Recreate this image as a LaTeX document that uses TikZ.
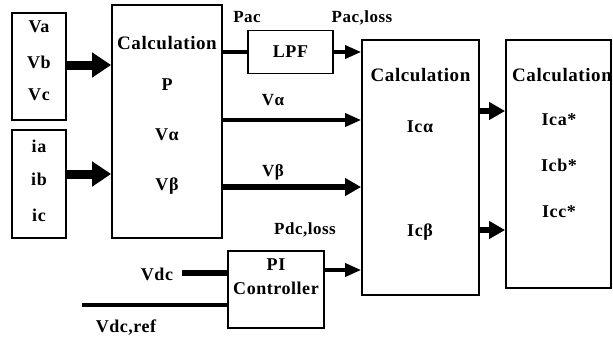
\documentclass[tikz,border=0pt]{standalone}
\usepackage{fontspec}
\setmainfont{Liberation Serif}[LetterSpace=3]
\usetikzlibrary{arrows.meta}
\begin{document}
\begin{tikzpicture}[x=1pt,y=-1pt,
  box/.style={draw,line width=1.8pt,inner sep=0pt},
  txt/.style={inner sep=0pt,font=\bfseries\fontsize{18}{20}\selectfont},
  calc/.style={inner sep=0pt,font=\bfseries\fontsize{19}{21}\selectfont},
  lbl/.style={inner sep=0pt,font=\bfseries\fontsize{17}{19}\selectfont},
  bigarrow/.style={line width=9pt,-{Triangle[length=19pt,width=24pt]}},
  medarrow/.style={line width=5.5pt,-{Triangle[length=16pt,width=17pt]}},
  thinarrow/.style={line width=3.5pt,-{Triangle[length=16pt,width=13pt]}},
  thinline/.style={line width=3.5pt},
  medline/.style={line width=5.5pt}]
\useasboundingbox (0,0) rectangle (613,341);
\fill[white] (0,0) rectangle (613,341);
% boxes
\node[box,minimum width=54pt,minimum height=107pt] (vbox) at (39,66.5) {};
\node[box,minimum width=54pt,minimum height=108pt] (ibox) at (39,184) {};
\node[box,minimum width=110pt,minimum height=233pt] (calc1) at (167,121.5) {};
\node[box,minimum width=85pt,minimum height=43pt] (lpf) at (290.5,52) {};
\node[box,minimum width=117pt,minimum height=255pt] (calc2) at (420.5,167.5) {};
\node[box,minimum width=105pt,minimum height=248pt] (calc3) at (558.5,164) {};
\node[box,minimum width=96pt,minimum height=77pt] (pi) at (276,289.5) {};
% box texts
\node[txt] (va) at (39,27) {Va};
\node[txt] (vb) at (39,62) {Vb};
\node[txt] (vc) at (39,95) {Vc};
\node[txt] (ia) at (39,146) {ia};
\node[txt] (ib) at (39,179) {ib};
\node[txt] (ic) at (39,215) {ic};
\node[calc] (c1t) at (167,43) {Calculation};
\node[txt] (p) at (167,85) {P};
\node[txt] (va1) at (167,135) {Vα};
\node[txt] (vb1) at (167,186) {Vβ};
\node[txt] (lpft) at (290.5,52) {LPF};
\node[calc] (c2t) at (420.5,75) {Calculation};
\node[txt] (ica) at (420,127) {Icα};
\node[txt] (icb) at (420,232) {Icβ};
\node[calc] (c3t) at (562,75) {Calculation};
\node[txt] (ica3) at (559,120) {Ica*};
\node[txt] (icb3) at (559,165) {Icb*};
\node[txt] (icc3) at (559,212) {Icc*};
\node[txt] (pit) at (276,265) {PI};
\node[txt] (cont) at (276,288) {Controller};
% labels
\node[lbl] (pac) at (247,17) {Pac};
\node[lbl] (pacl) at (362,18) {Pac,loss};
\node[lbl] (valbl) at (273,100) {Vα};
\node[lbl] (vblbl) at (273,172) {Vβ};
\node[lbl] (pdcl) at (305,230) {Pdc,loss};
\node[txt] (vdc) at (157,274) {Vdc};
\node[txt] (vdcref) at (126,328) {Vdc,ref};
\coordinate (vref) at (82,305);
% connectors
\draw[bigarrow] ([yshift=1.5pt]vbox.east) -- ([yshift=1.5pt]vbox.east -| calc1.west);
\draw[bigarrow] ([yshift=10pt]ibox.east) -- ([yshift=10pt]ibox.east -| calc1.west);
\draw[thinline] (lpf.west -| calc1.east) -- (lpf.west);
\draw[thinarrow] (lpf.east) -- (lpf.east -| calc2.west);
\draw[thinarrow] ([yshift=1.5pt]calc1.east) -- ([yshift=1.5pt]calc1.east -| calc2.west);
\draw[medarrow] ([yshift=-65.5pt]calc1.east) -- ([yshift=-65.5pt]calc1.east -| calc2.west);
\draw[thinarrow] ([yshift=19.5pt]pi.east) -- ([yshift=19.5pt]pi.east -| calc2.west);
\draw[medline] ([xshift=9pt,yshift=1pt]vdc.east) -- ([yshift=1pt]vdc.east -| pi.west);
\draw[thinline] (vref) -- (vref -| pi.west);
\draw[medarrow] ([yshift=56.5pt]calc2.east) -- ([yshift=56.5pt]calc2.east -| calc3.west);
\draw[medarrow] ([yshift=-62.5pt]calc2.east) -- ([yshift=-62.5pt]calc2.east -| calc3.west);
\end{tikzpicture}
\end{document}
